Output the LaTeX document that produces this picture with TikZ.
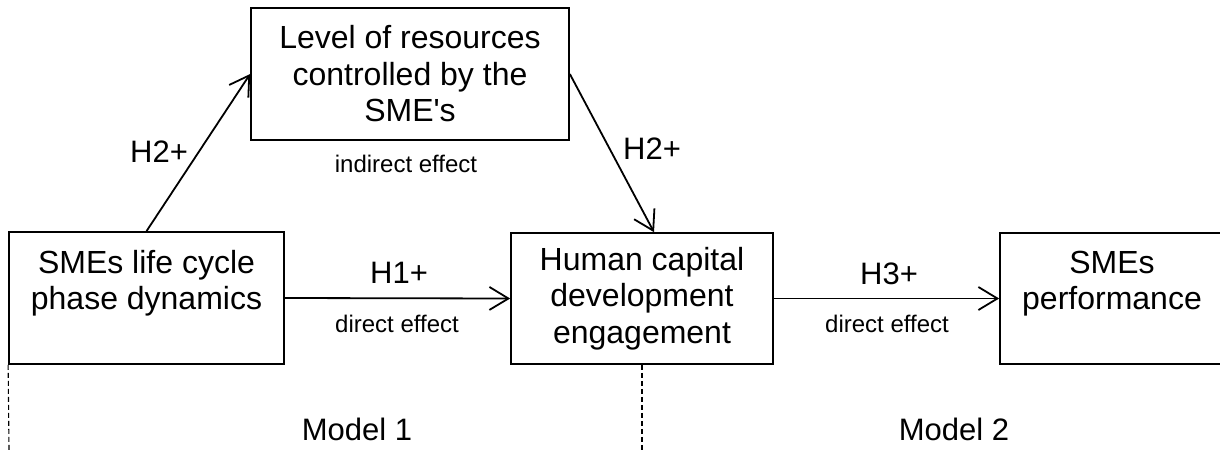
\documentclass[tikz,border=0pt]{standalone}
\usepackage{fontspec}
\setmainfont{Liberation Sans}
\usetikzlibrary{arrows.meta}
\begin{document}
\begin{tikzpicture}[x=1pt,y=-1pt,
  box/.style={draw, line width=1.7pt, inner sep=0pt, align=center, font=\fontsize{32}{36.5}\selectfont},
  conn/.style={line width=1.8pt, -{Straight Barb[length=19pt,width=23pt,line width=1.8pt]}},
  hlab/.style={anchor=base, font=\fontsize{31}{36}\selectfont},
  small/.style={anchor=base, font=\fontsize{24}{28}\selectfont},
  sep/.style={line width=1.1pt, dash pattern=on 5pt off 3pt}]
\useasboundingbox (0,0) rectangle (1220,450);
\clip (0,0) rectangle (1220,450);

\node[box, minimum width=318pt, minimum height=132pt] (res) at (410,74)
  {Level of resources\\controlled by the\\SME\textquotesingle s};
\node[box, minimum width=275pt, minimum height=132pt] (life) at (146.5,298)
  {SMEs life cycle\\phase dynamics\\\mbox{}};
\node[box, minimum width=262pt, minimum height=131pt] (hcd) at (642,298.5)
  {Human capital\\development\\engagement};
\node[box, minimum width=224pt, minimum height=131pt] (perf) at (1112,298.5)
  {SMEs\\performance\\\mbox{}};

\draw[conn] (life.north) -- (res.west);
\draw[conn] (res.east) -- ([xshift=12pt]hcd.north);
\draw[conn] (life.east) -- (hcd.west);
\draw[conn] (hcd.east) -- (perf.west);

\node[hlab] (h2a) at (159,162) {H2+};
\node[hlab] (h2b) at (652,159) {H2+};
\node[hlab] (h1) at (399,283) {H1+};
\node[hlab] (h3) at (889,284) {H3+};
\node[small] (ind) at (406,172) {indirect effect};
\node[small] (dir1) at (397,332) {direct effect};
\node[small] (dir2) at (887,332) {direct effect};
\node[hlab] (m1) at (357,440) {Model 1};
\node[hlab] (m2) at (954,440) {Model 2};

\coordinate (d1) at (9,450);
\coordinate (d2) at (642,450);
\draw[sep] (life.south west) -- (d1);
\draw[sep] (hcd.south) -- (d2);
\end{tikzpicture}
\end{document}
